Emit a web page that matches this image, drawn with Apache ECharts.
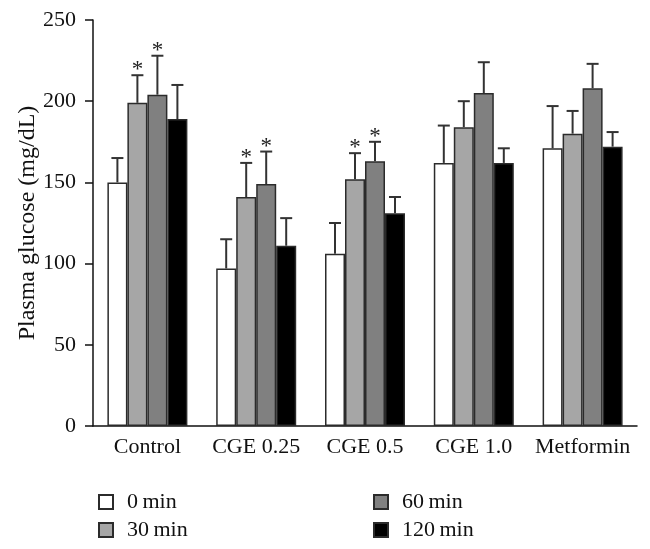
<!DOCTYPE html>
<html>
<head>
<meta charset="utf-8">
<script src="https://cdn.jsdelivr.net/npm/echarts@6/dist/echarts.min.js"></script>
<style>html,body{margin:0;padding:0;background:#fff}#c{width:650px;height:549px}</style>
</head>
<body>
<div id="c"></div>
<script>
const categories = ['Control', 'CGE 0.25', 'CGE 0.5', 'CGE 1.0', 'Metformin'];
const seriesNames = ['0\u2009min', '30\u2009min', '60\u2009min', '120\u2009min'];
const mean0 = [150, 97, 106, 162, 171];
const mean30 = [199, 141, 152, 184, 180];
const mean60 = [204, 149, 163, 205, 208];
const mean120 = [189, 111, 131, 162, 172];
const err0 = [15, 18, 19, 23, 26];
const err30 = [17, 21, 16, 16, 14];
const err60 = [24, 20, 12, 19, 15];
const err120 = [21, 17, 10, 9, 9];
const star0 = [0, 0, 0, 0, 0];
const star30 = [1, 1, 1, 0, 0];
const star60 = [1, 1, 1, 0, 0];
const star120 = [0, 0, 0, 0, 0];
const yTicks = [0, 50, 100, 150, 200, 250];

const means = [mean0, mean30, mean60, mean120];
const errs = [err0, err30, err60, err120];
const stars = [star0, star30, star60, star120];
const colors = ['#ffffff', '#a6a6a6', '#808080', '#000000'];
const FONT = 'Liberation Serif';
const BAR_W = 20;

const barSeries = means.map((m, k) => ({
  name: seriesNames[k],
  type: 'bar',
  data: m,
  barWidth: BAR_W,
  barGap: '0%',
  itemStyle: { color: colors[k], borderColor: '#2b2b2b', borderWidth: 1.5 },
  emphasis: { disabled: true },
  z: 2
}));

const errSeries = means.map((m, k) => ({
  type: 'custom',
  z: 3,
  silent: true,
  data: m.map((v, i) => [i, v, errs[k][i], stars[k][i]]),
  encode: { x: 0, y: 1 },
  renderItem: function (params, api) {
    const i = api.value(0), v = api.value(1), e = api.value(2), s = api.value(3);
    const base = api.coord([i, v]);
    const top = api.coord([i, v + e]);
    const x = base[0] + (k - 1.5) * BAR_W;
    const children = [
      { type: 'line', shape: { x1: x, y1: base[1], x2: x, y2: top[1] }, style: { stroke: '#333', lineWidth: 2 } },
      { type: 'line', shape: { x1: x - 6, y1: top[1], x2: x + 6, y2: top[1] }, style: { stroke: '#333', lineWidth: 2 } }
    ];
    if (s) {
      children.push({ type: 'text', x: x, y: top[1] - 5,
        style: { text: '*', fill: '#222', font: '23px "' + FONT + '"', align: 'center', verticalAlign: 'middle' } });
    }
    return { type: 'group', children: children };
  }
}));

const legendPos = [[93, 486], [93, 514], [368, 486], [368, 514]];
const legends = seriesNames.map((n, k) => ({
  data: [n], left: legendPos[k][0], top: legendPos[k][1],
  itemWidth: 14, itemHeight: 14, icon: 'rect', selectedMode: false,
  textStyle: { fontFamily: FONT, fontSize: 22, color: '#111', padding: [0, 0, 0, 9] }
}));

const chart = echarts.init(document.getElementById('c'), null, { renderer: 'canvas' });
chart.setOption({
  backgroundColor: '#fff',
  animation: false,
  grid: { left: 93, right: 13, top: 20, bottom: 123 },
  legend: legends,
  xAxis: {
    type: 'category',
    data: categories,
    axisLine: { lineStyle: { color: '#111', width: 1.5 } },
    axisTick: { show: false },
    axisLabel: { fontFamily: FONT, fontSize: 22, color: '#111', margin: 10, interval: 0 }
  },
  yAxis: {
    type: 'value',
    min: yTicks[0], max: yTicks[yTicks.length - 1], interval: 50,
    name: 'Plasma glucose (mg/dL)',
    nameLocation: 'middle',
    nameGap: 53,
    nameMoveOverlap: false,
    nameTextStyle: { fontFamily: FONT, fontSize: 24, color: '#111' },
    axisLine: { show: true, lineStyle: { color: '#111', width: 1.5 } },
    axisTick: { show: true, length: 8, lineStyle: { color: '#111', width: 1.5 } },
    axisLabel: { fontFamily: FONT, fontSize: 22, color: '#111', margin: 17 },
    splitLine: { show: false }
  },
  series: barSeries.concat(errSeries)
});
</script>
</body>
</html>
